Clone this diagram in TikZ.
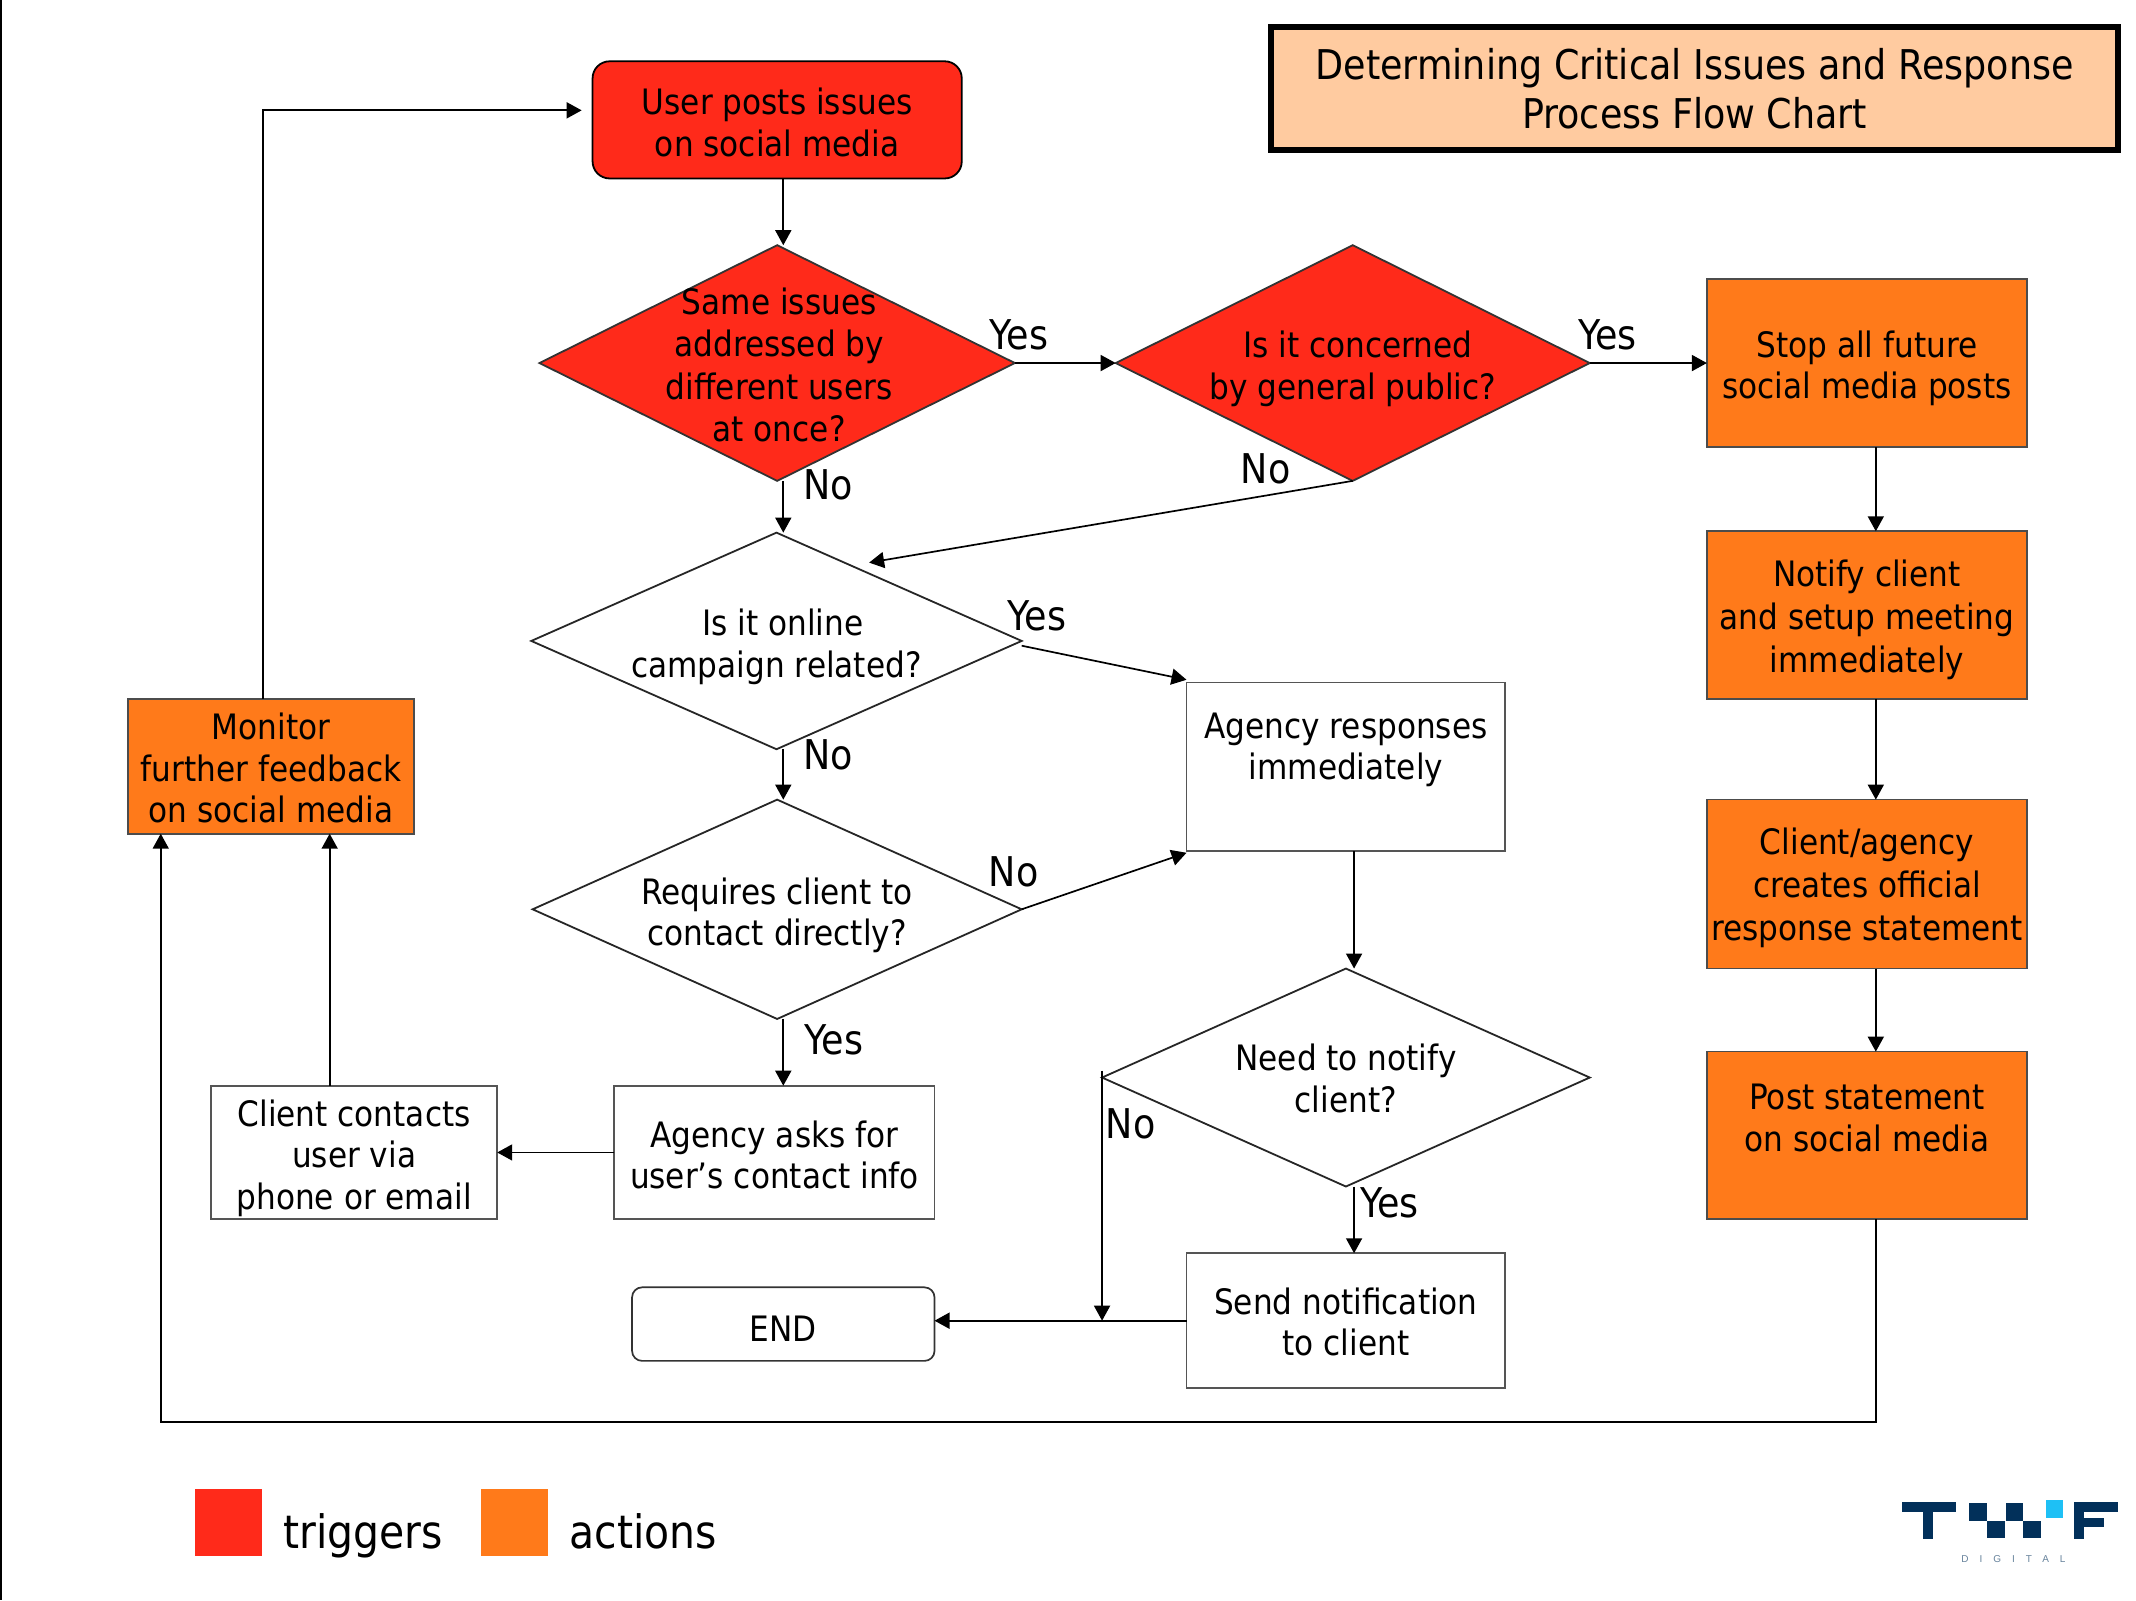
\documentclass[tikz,border=0pt]{standalone}
\usepackage{fontspec}
\setmainfont{DejaVu Sans}[FakeStretch=0.89]
\newfontfamily\logofont[LetterSpace=110]{Liberation Sans}
\usetikzlibrary{shapes.geometric,arrows.meta}
\definecolor{trig}{HTML}{FF2A1A}
\definecolor{act}{HTML}{FF7A1A}
\definecolor{peach}{HTML}{FFCBA0}
\definecolor{navy}{HTML}{02305A}
\definecolor{sky}{HTML}{1EC0F5}
\definecolor{bord}{HTML}{555555}
\newcommand\dn[1]{\rule{0pt}{\dimexpr 26.6pt+#1pt*2\relax}}
\tikzset{
  x=1.3622pt,y=-1.3622pt,
  every node/.style={outer sep=0pt,inner sep=0pt,text=black},
  body/.style={font=\fontsize{35}{41.5}\selectfont,align=center},
  boxw/.style={draw=bord,line width=1.9pt,fill=white,rectangle,body},
  boxa/.style={draw=black!70,line width=1.6pt,fill=act,rectangle,body},
  dia/.style={diamond,line width=1.8pt,draw=black!85,fill=white,aspect=2},
  diar/.style={dia,fill=trig,draw=black!80},
  lbl/.style={body},
  edgetxt/.style={font=\fontsize{41}{44}\selectfont},
  arr/.style={draw=black,line width=1.7pt,-{Triangle[length=15pt,width=16pt]}},
}
\begin{document}
\begin{tikzpicture}
\useasboundingbox (0,0) rectangle (1568,1174.6);
\fill[white] (0,0) rectangle (1568,1174.6);
\fill[black] (0,0) rectangle (1.5,1174.6);
% title
\node[rectangle,draw=black,line width=6pt,fill=peach,minimum width=622*1.3622pt,minimum height=90*1.3622pt,font=\fontsize{41}{49}\selectfont,align=center] (title) at (1244,65) {Determining Critical Issues and Response\\Process Flow Chart};
% start
\node[rectangle,rounded corners=17pt,draw=black,line width=1.8pt,fill=trig,minimum width=271*1.3622pt,minimum height=86*1.3622pt,body] (user) at (570.5,88) {\dn{2.7}User posts issues\\on social media};
% decisions
\node[diar,minimum width=349*1.3622pt,minimum height=173*1.3622pt,label={[lbl,xshift=2pt,yshift=-2pt]center:{Same issues\\[1pt]addressed by\\[1pt]different users\\[1pt]at once?}}] (d1) at (570.5,266.5) {};
\node[diar,minimum width=348*1.3622pt,minimum height=173*1.3622pt,label={[lbl,yshift=-5.7pt]center:{\hspace*{10pt}Is it concerned\\by general public?}}] (d2) at (993,266.5) {};
\node[dia,minimum width=360*1.3622pt,minimum height=159*1.3622pt,label={[lbl,yshift=-6pt]center:{\hspace*{13pt}Is it online\\campaign related?}}] (d3) at (570,470.5) {};
\node[dia,minimum width=359*1.3622pt,minimum height=161*1.3622pt,label={[lbl,yshift=-6pt]center:{Requires client to\\contact directly?}}] (d4) at (570.5,667.5) {};
\node[dia,minimum width=358*1.3622pt,minimum height=160*1.3622pt,label={[lbl,yshift=-0.7pt]center:{Need to notify\\client?}}] (d5) at (988,791) {};
% right column
\node[boxa,minimum width=235*1.3622pt,minimum height=123*1.3622pt] (stop) at (1370.5,266.5) {\dn{5.4}Stop all future\\social media posts};
\node[boxa,minimum width=235*1.3622pt,minimum height=123*1.3622pt,font=\fontsize{35}{43}\selectfont] (notify) at (1370.5,451.5) {\dn{4.8}Notify client\\and setup meeting\\immediately};
\node[boxa,minimum width=235*1.3622pt,minimum height=124*1.3622pt,font=\fontsize{35}{43}\selectfont] (create) at (1370.5,649) {\dn{4}Client/agency\\creates official\\response statement};
\node[boxa,minimum width=235*1.3622pt,minimum height=123*1.3622pt] (post) at (1370.5,833.5) {\dn{2.7}Post statement\\on social media\\~};
% middle
\node[boxw,minimum width=234*1.3622pt,minimum height=124*1.3622pt] (resp) at (988,563) {Agency responses\\immediately\\~};
\node[boxw,minimum width=234*1.3622pt,minimum height=99*1.3622pt] (send) at (988,969.5) {\dn{1.4}Send notification\\to client};
\node[boxw,minimum width=235*1.3622pt,minimum height=98*1.3622pt] (asks) at (568.5,846) {\dn{2.7}Agency asks for\\user’s contact info};
\node[boxw,minimum width=210*1.3622pt,minimum height=98*1.3622pt] (cont) at (260,846) {\dn{5.4}Client contacts\\user via\\phone or email};
\node[boxa,minimum width=210*1.3622pt,minimum height=99*1.3622pt] (mon) at (199,562.5) {\dn{2}Monitor\\further feedback\\on social media};
\node[rectangle,rounded corners=10pt,draw=black!80,line width=1.7pt,fill=white,minimum width=222*1.3622pt,minimum height=54*1.3622pt,body] (endn) at (575,972) {\dn{4}END};
% guides
\coordinate (xa) at (575,0);
\coordinate (xb) at (1377,0);
\coordinate (xc) at (994,0);
\coordinate (xm1) at (118,0);
\coordinate (xm2) at (193,0);
\coordinate (xm3) at (242,0);
\coordinate (xn) at (809,0);
\coordinate (ym) at (0,81);
\coordinate (yb) at (0,1044);
\coordinate (uin) at (427,81);
\coordinate (d3in) at (638,413);
\coordinate (respin) at (871,499);
\coordinate (respin2) at (871,626);
\coordinate (d5l) at (809,786);
\coordinate (d3r) at (750,474);
% connectors
\draw[arr] (user.south -| xa) -- (d1.north -| xa);
\draw[arr] (d1.east) -- (d2.west);
\draw[arr] (d2.east) -- (stop.west);
\draw[arr] (d1.south -| xa) -- (d3.north -| xa);
\draw[arr] (d2.south) -- (d3in);
\draw[arr] (d3r) -- (respin);
\draw[arr] (d3.south -| xa) -- (d4.north -| xa);
\draw[arr] (d4.east) -- (respin2);
\draw[arr] (d4.south -| xa) -- (asks.north -| xa);
\draw[arr] (asks.west) -- (cont.east);
\draw[arr] (cont.north -| xm3) -- (mon.south -| xm3);
\draw[arr] (mon.north -| xm2) -- (xm2 |- ym) -- (uin);
\draw[arr] (stop.south -| xb) -- (notify.north -| xb);
\draw[arr] (notify.south -| xb) -- (create.north -| xb);
\draw[arr] (create.south -| xb) -- (post.north -| xb);
\draw[arr] (post.south -| xb) -- (xb |- yb) -- (xm1 |- yb) -- (mon.south -| xm1);
\draw[arr] (resp.south -| xc) -- (d5.north -| xc);
\draw[arr] (d5.south -| xc) -- (send.north -| xc);
\draw[arr] (send.west) -- (endn.east |- send.west);
\draw[arr] (d5l) -- (xn |- send.west);
% edge labels
\node[edgetxt] (y1) at (748,246) {Yes};
\node[edgetxt] (y2) at (1180,246) {Yes};
\node[edgetxt] (n1) at (608,356) {No};
\node[edgetxt] (n2) at (929,344) {No};
\node[edgetxt] (y3) at (761,452) {Yes};
\node[edgetxt] (n3) at (608,554) {No};
\node[edgetxt] (n4) at (744,640) {No};
\node[edgetxt] (y4) at (612,763) {Yes};
\node[edgetxt] (n5) at (830,825) {No};
\node[edgetxt] (y5) at (1020,883) {Yes};
% legend
\fill[trig] (143,1093) rectangle (192,1142);
\fill[act] (353,1093) rectangle (402,1142);
\node[font=\fontsize{46}{50}\selectfont,anchor=base west] (lt) at (208,1137) {triggers};
\node[font=\fontsize{46}{50}\selectfont,anchor=base west] (la) at (418,1137) {actions};
% logo
\begin{scope}[shift={(1358.1,1079.1)},x=0.3333pt,y=-0.3333pt]
\fill[navy] (155,97) rectangle (318,127);
\fill[navy] (220,97) rectangle (250,207);
\fill[navy] (358,100) rectangle (410,152);
\fill[navy] (410,152) rectangle (465,205);
\fill[navy] (468,100) rectangle (520,152);
\fill[navy] (520,152) rectangle (573,205);
\fill[sky] (587,90) rectangle (640,143);
\fill[navy] (672,97) rectangle (805,127);
\fill[navy] (672,97) rectangle (702,207);
\fill[navy] (672,143) rectangle (762,170);
\end{scope}
\node[font=\logofont\fontsize{10}{12}\selectfont,text=navy!60] (dig) at (1478,1144.6) {DIGITAL};
\end{tikzpicture}
\end{document}
